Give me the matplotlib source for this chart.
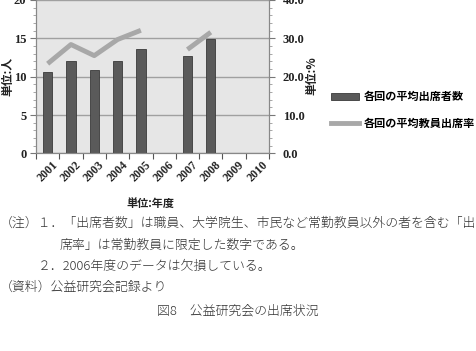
import numpy as np
import matplotlib
matplotlib.use("Agg")
import matplotlib.pyplot as plt
from matplotlib.patches import Patch
from matplotlib.lines import Line2D
from matplotlib.ticker import MultipleLocator, FixedLocator

plt.rcParams['font.family'] = ['Liberation Serif', 'Noto Sans CJK JP']

years = ['2001', '2002', '2003', '2004', '2005', '2006', '2007', '2008', '2009', '2010']
attendees = [10.6, 12.0, 10.85, 12.0, 13.6, np.nan, 12.75, 14.9, np.nan, np.nan]
faculty_rate = [23.4, 28.4, 25.5, 29.7, 32.1, np.nan, 27.1, 31.6, np.nan, np.nan]

bar_label = '各回の平均出席者数'
line_label = '各回の平均教員出席率'

fig = plt.figure(figsize=(4.77, 3.51), dpi=100)
ax = fig.add_axes([36/477, 1 - 153.5/351, (269-36)/477, 153.5/351])
ax.set_facecolor('#e6e6e6')

x = np.arange(len(years))
ax.bar(x, attendees, width=0.4, color='#5a5a5a', edgecolor='#3a3a3a', linewidth=0.6, zorder=3)
ax.set_xlim(-0.5, len(years) - 0.5)
ax.set_ylim(0, 20)
ax.yaxis.set_minor_locator(MultipleLocator(1))
ax.grid(axis='y', which='major', color='#a0a0a0', linewidth=1.0, zorder=1)

ax2 = ax.twinx()
ax2.plot(x, faculty_rate, color='#a8a8a8', linewidth=3.5, solid_capstyle='butt', zorder=4)
ax2.set_ylim(0, 40)
ax2.yaxis.set_minor_locator(MultipleLocator(2))
ax2.set_yticks([0, 10, 20, 30, 40])
ax2.set_yticklabels(['0.0', '10.0', '20.0', '30.0', '40.0'])

ax.set_yticks([0, 5, 10, 15, 20])
ax.set_yticklabels(['0', '5', '10', '15', '20'])
for lab in ax.get_yticklabels() + ax2.get_yticklabels():
    lab.set_fontfamily('Liberation Serif'); lab.set_fontsize(9); lab.set_fontweight('bold'); lab.set_color('#222222')

ax.set_xticks(x)
ax.set_xticklabels(years, rotation=45, ha='center', va='top', family=['Liberation Serif'],
                   fontsize=8.5, fontweight='bold', color='#222222')
ax.xaxis.set_minor_locator(FixedLocator(np.arange(-0.5, len(years), 1.0)))
ax.tick_params(axis='x', which='major', length=0, pad=4)
ax.tick_params(axis='x', which='minor', length=4, color='#555555', width=0.8)
ax.tick_params(axis='y', which='major', length=4, color='#777777', pad=3)
ax.tick_params(axis='y', which='minor', length=2, color='#999999')
ax2.tick_params(axis='y', which='major', length=4, color='#777777', pad=6)
ax2.tick_params(axis='y', which='minor', length=2, color='#999999')

for a in (ax, ax2):
    a.spines['top'].set_visible(False)
    for s in ('left', 'right', 'bottom'):
        a.spines[s].set_color('#888888')
        a.spines[s].set_linewidth(0.8)

jp_bold = dict(family=['Noto Sans CJK JP'], fontweight='bold', color='#222222')
fig.text(8/477, 1 - 76/351, '単位:人', rotation=90, ha='center', va='center', fontsize=8.5, **jp_bold)
fig.text(312/477, 1 - 76/351, '単位:%', rotation=90, ha='center', va='center', fontsize=8.5, **jp_bold)
fig.text(150/477, 1 - 203/351, '単位:年度', ha='center', va='center', fontsize=8, **jp_bold)

handles = [Patch(facecolor='#5a5a5a', edgecolor='#3a3a3a', linewidth=0.6),
           Line2D([0], [0], color='#a8a8a8', linewidth=3.5)]
leg = fig.legend(handles, [bar_label, line_label], loc='center left',
                 bbox_to_anchor=(321/477, 1 - 110/351), frameon=False,
                 handlelength=2.5, handleheight=0.7, handletextpad=0.45, labelspacing=1.2,
                 prop=dict(family='Noto Sans CJK JP', weight='bold', size=8))

note_font = dict(family=['Noto Sans CJK JP'], fontsize=9.3, color='#333333', fontweight='light', va='center')
fig.text(0/477, 1 - 223/351, '（注）１．「出席者数」は職員、大学院生、市民など常勤教員以外の者を含む「出', **note_font)
fig.text(60/477, 1 - 245/351, '席率」は常勤教員に限定した数字である。', **note_font)
fig.text(38/477, 1 - 266/351, '２．2006年度のデータは欠損している。', **note_font)
fig.text(0/477, 1 - 287/351, '（資料）公益研究会記録より', **note_font)
fig.text(238/477, 1 - 311/351, '図8　公益研究会の出席状況', ha='center', **note_font)

fig.savefig('out.png', dpi=100)
